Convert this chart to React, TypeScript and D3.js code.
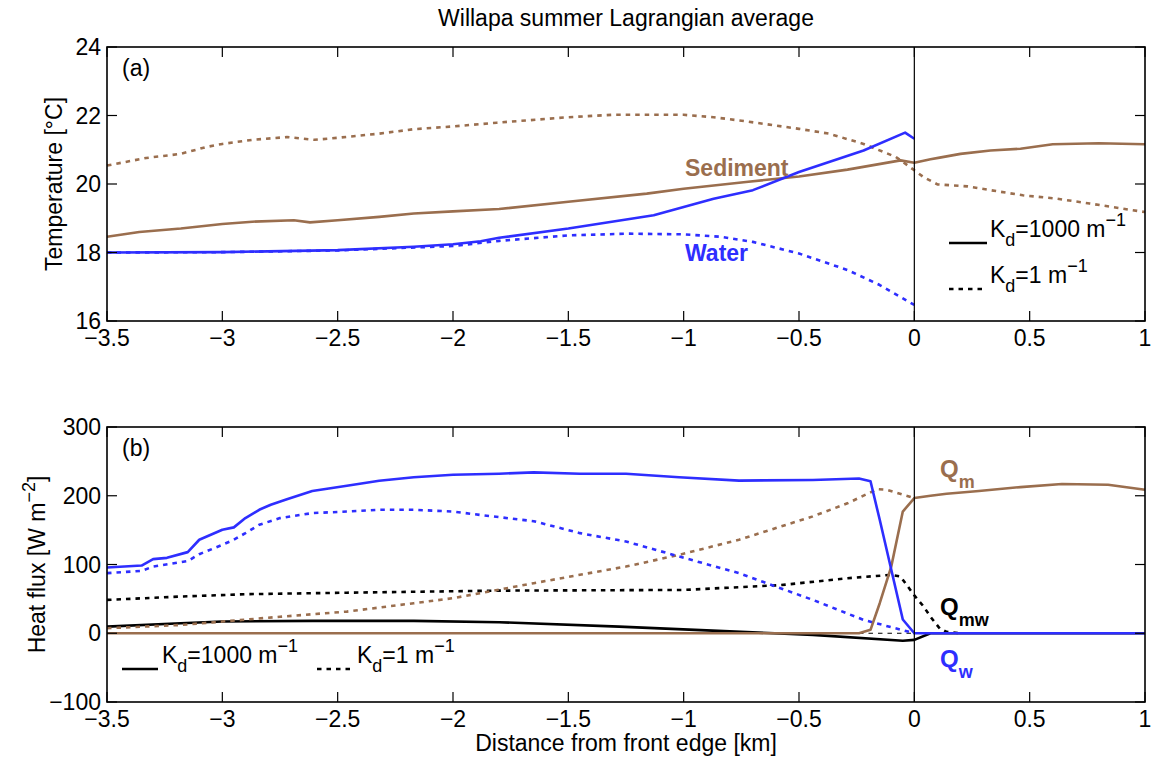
import React from "react";
import * as d3 from "d3";

// ---------- data ----------
const xTicks = [-3.5, -3, -2.5, -2, -1.5, -1, -0.5, 0, 0.5, 1];
const tTicks = [16, 18, 20, 22, 24];
const qTicks = [-100, 0, 100, 200, 300];

// panel (a): temperature [°C]
const sedimentSolid: [number, number][] = [[-3.5,18.46],[-3.36,18.6],[-3.18,18.7],[-3,18.83],[-2.87,18.9],[-2.69,18.94],[-2.62,18.88],[-2.5,18.94],[-2.32,19.04],[-2.17,19.14],[-2,19.2],[-1.8,19.27],[-1.5,19.48],[-1.16,19.72],[-1,19.86],[-0.73,20.06],[-0.5,20.22],[-0.29,20.42],[-0.06,20.69],[0,20.62],[0.07,20.72],[0.11,20.77],[0.2,20.88],[0.33,20.98],[0.46,21.03],[0.6,21.16],[0.8,21.19],[1,21.16]];
const sedimentDotted: [number, number][] = [[-3.5,20.54],[-3.33,20.76],[-3.18,20.88],[-3.07,21.08],[-3,21.17],[-2.87,21.29],[-2.72,21.37],[-2.6,21.29],[-2.5,21.35],[-2.32,21.47],[-2.17,21.6],[-2,21.68],[-1.81,21.79],[-1.5,21.95],[-1.31,22.02],[-1,22.02],[-0.87,21.95],[-0.73,21.83],[-0.5,21.61],[-0.37,21.47],[-0.22,21.17],[-0.08,20.79],[0,20.4],[0.04,20.2],[0.1,19.99],[0.23,19.93],[0.33,19.82],[0.47,19.67],[0.62,19.57],[0.76,19.43],[1,19.18]];
const waterSolid: [number, number][] = [[-3.5,18.0],[-3,18.01],[-2.5,18.07],[-2.17,18.17],[-2,18.24],[-1.88,18.33],[-1.8,18.43],[-1.5,18.7],[-1.13,19.09],[-1,19.33],[-0.87,19.57],[-0.7,19.82],[-0.5,20.35],[-0.22,20.98],[-0.04,21.5],[0,21.32]];
const waterDotted: [number, number][] = [[-3.5,18.0],[-3,18.01],[-2.5,18.06],[-2,18.19],[-1.8,18.34],[-1.5,18.5],[-1.24,18.55],[-1,18.53],[-0.84,18.46],[-0.7,18.31],[-0.5,17.97],[-0.29,17.49],[-0.15,17.05],[0,16.47]];

// panel (b): heat flux [W m^-2]
const qwSolid: [number, number][] = [[-3.5,95.6],[-3.35,98.5],[-3.3,107.8],[-3.24,109.7],[-3.15,118],[-3.1,136],[-3,150.5],[-2.95,154],[-2.9,167.5],[-2.84,179.6],[-2.79,187],[-2.72,195],[-2.61,207],[-2.46,214.6],[-2.32,221.8],[-2.17,227],[-2,230.6],[-1.8,232],[-1.65,234],[-1.45,232],[-1.25,232],[-1.02,227],[-0.76,222],[-0.44,223],[-0.24,225],[-0.19,221],[-0.15,165],[-0.05,20],[0,0],[1,0]];
const qwDotted: [number, number][] = [[-3.5,87.4],[-3.35,90.8],[-3.3,97],[-3.15,105],[-3.1,115],[-3,128.6],[-2.95,136],[-2.9,145.6],[-2.84,157.8],[-2.75,167.5],[-2.61,174.8],[-2.46,177],[-2.32,179.6],[-2.17,179.6],[-2,177],[-1.88,172],[-1.65,163],[-1.45,145.6],[-1.25,133.5],[-1.02,111.7],[-0.76,87.4],[-0.44,48.5],[-0.22,19.4],[0,0]];
const qmSolid: [number, number][] = [[-3.5,0],[-0.24,0],[-0.19,5],[-0.15,43.7],[-0.1,97],[-0.05,177],[0,196.6],[0.07,200],[0.14,203],[0.28,207],[0.46,212.6],[0.64,217],[0.84,216],[1,208.7]];
const qmDotted: [number, number][] = [[-3.5,7.3],[-3.18,12],[-3,17],[-2.75,24],[-2.46,31.5],[-2.17,43.7],[-2,51],[-1.84,61],[-1.65,72.8],[-1.45,85],[-1.25,97],[-1.02,114],[-0.76,136],[-0.44,170],[-0.29,189],[-0.16,209.7],[-0.12,208.7],[0,196.6]];
const qmwSolid: [number, number][] = [[-3.5,9.7],[-3.18,14.6],[-3,17],[-2.61,18],[-2.17,18],[-1.8,16],[-1.28,9.7],[-0.85,3.4],[-0.44,-2.4],[-0.05,-11],[0,-9.7],[0.07,0],[1,0]];
const qmwDotted: [number, number][] = [[-3.5,48.5],[-3.18,53.4],[-2.9,56.8],[-2.46,59],[-1.8,62],[-1,63],[-0.58,70],[-0.29,80],[-0.1,85],[-0.06,82.5],[0,55],[0.04,39],[0.07,24],[0.11,7],[0.14,2],[0.2,0]];
const qmwThin: [number, number][] = [[-0.24,0],[0,0]];

// ---------- style ----------
const BROWN = "#9a6e4e";
const BLUE = "#2e2eff";
const FONT = "'Liberation Sans', Arial, Helvetica, sans-serif";
const DOT = "4.5,5";

const W = 1152, H = 759;
const L = 107, R = 1145;
const A = { top: 47, bottom: 321 };
const B = { top: 427, bottom: 702 };

const x = d3.scaleLinear().domain([-3.5, 1]).range([L, R]);
const yT = d3.scaleLinear().domain([16, 24]).range([A.bottom, A.top]);
const yQ = d3.scaleLinear().domain([-100, 300]).range([B.bottom, B.top]);

const fmt = (v: number) => (v < 0 ? "\u2212" + String(Math.abs(v)) : String(v));

function Series({ data, y, color, dotted, width = 2.6 }: any) {
  const line = d3.line<[number, number]>().x((d) => x(d[0])).y((d) => y(d[1]));
  return (
    <path d={line(data) || ""} fill="none" stroke={color} strokeWidth={width}
      strokeDasharray={dotted ? DOT : undefined} strokeLinejoin="round" />
  );
}

function Frame({ y, ticks, top, bottom }: any) {
  const tl = 10;
  return (
    <g>
      {xTicks.map((t) => (
        <g key={"x" + t}>
          <line x1={x(t)} x2={x(t)} y1={bottom} y2={bottom - tl} stroke="#000" strokeWidth={1.2} />
          <line x1={x(t)} x2={x(t)} y1={top} y2={top + tl} stroke="#000" strokeWidth={1.2} />
          <text x={x(t)} y={bottom + 25} textAnchor="middle" fontSize={23} fontFamily={FONT}>{fmt(t)}</text>
        </g>
      ))}
      {ticks.map((t: number) => (
        <g key={"y" + t}>
          <line x1={L} x2={L + tl} y1={y(t)} y2={y(t)} stroke="#000" strokeWidth={1.2} />
          <line x1={R} x2={R - tl} y1={y(t)} y2={y(t)} stroke="#000" strokeWidth={1.2} />
          <text x={L - 6} y={y(t) + 8} textAnchor="end" fontSize={23} fontFamily={FONT}>{fmt(t)}</text>
        </g>
      ))}
      <line x1={x(0)} x2={x(0)} y1={top} y2={bottom} stroke="#000" strokeWidth={1.2} />
      <rect x={L} y={top} width={R - L} height={bottom - top} fill="none" stroke="#000" strokeWidth={1.6} />
    </g>
  );
}

function KdLabel({ x0, y0, value }: any) {
  return (
    <text x={x0} y={y0} fontSize={23} fontFamily={FONT}>
      K<tspan dy={9} fontSize={18}>d</tspan>
      <tspan dy={-9}>={value} m</tspan>
      <tspan dy={-11} fontSize={18}>{"\u22121"}</tspan>
    </text>
  );
}

export default function App() {
  return (
    <svg width={W} height={H} style={{ position: "absolute", left: 0, top: 0, background: "#fff" }}>
      <rect width={W} height={H} fill="#fff" />
      <text x={(L + R) / 2} y={26} textAnchor="middle" fontSize={23} fontFamily={FONT}>Willapa summer Lagrangian average</text>

      {/* panel (a) */}
      <Series data={sedimentDotted} y={yT} color={BROWN} dotted />
      <Series data={waterDotted} y={yT} color={BLUE} dotted />
      <Series data={sedimentSolid} y={yT} color={BROWN} />
      <Series data={waterSolid} y={yT} color={BLUE} />
      <Frame y={yT} ticks={tTicks} top={A.top} bottom={A.bottom} />
      <text x={122} y={76} fontSize={23} fontFamily={FONT}>(a)</text>
      <text x={685} y={176} fontSize={23} fontWeight="bold" fill={BROWN} fontFamily={FONT}>Sediment</text>
      <text x={685} y={261} fontSize={23} fontWeight="bold" fill={BLUE} fontFamily={FONT}>Water</text>
      <line x1={949} x2={987} y1={243} y2={243} stroke="#000" strokeWidth={2.6} />
      <KdLabel x0={990} y0={237} value="1000" />
      <line x1={949} x2={987} y1={289} y2={289} stroke="#000" strokeWidth={2.6} strokeDasharray={DOT} />
      <KdLabel x0={990} y0={283} value="1" />
      <text transform={`translate(62,${(A.top + A.bottom) / 2}) rotate(-90)`} textAnchor="middle" fontSize={23} fontFamily={FONT}>Temperature [°C]</text>

      {/* panel (b) */}
      <Series data={qmwDotted} y={yQ} color="#000" dotted />
      <Series data={qmwThin} y={yQ} color="#000" dotted width={1.2} />
      <Series data={qmwSolid} y={yQ} color="#000" />
      <Series data={qmDotted} y={yQ} color={BROWN} dotted />
      <Series data={qwDotted} y={yQ} color={BLUE} dotted />
      <Series data={qmSolid} y={yQ} color={BROWN} />
      <Series data={qwSolid} y={yQ} color={BLUE} />
      <Frame y={yQ} ticks={qTicks} top={B.top} bottom={B.bottom} />
      <text x={122} y={456} fontSize={23} fontFamily={FONT}>(b)</text>
      <text x={940} y={477} fontSize={24} fontWeight="bold" fill={BROWN} fontFamily={FONT}>Q<tspan dy={11} fontSize={18}>m</tspan></text>
      <text x={940} y={615} fontSize={24} fontWeight="bold" fill="#000" fontFamily={FONT}>Q<tspan dy={11} fontSize={18}>mw</tspan></text>
      <text x={940} y={667} fontSize={24} fontWeight="bold" fill={BLUE} fontFamily={FONT}>Q<tspan dy={11} fontSize={18}>w</tspan></text>
      <line x1={122} x2={158} y1={669} y2={669} stroke="#000" strokeWidth={2.6} />
      <KdLabel x0={162} y0={663} value="1000" />
      <line x1={317} x2={353} y1={669} y2={669} stroke="#000" strokeWidth={2.6} strokeDasharray={DOT} />
      <KdLabel x0={357} y0={663} value="1" />
      <text transform={`translate(45,${(B.top + B.bottom) / 2}) rotate(-90)`} textAnchor="middle" fontSize={23} fontFamily={FONT}>
        Heat flux [W m<tspan dy={-10} fontSize={18}>{"\u22122"}</tspan><tspan dy={10}>]</tspan>
      </text>
      <text x={(L + R) / 2} y={751} textAnchor="middle" fontSize={23} fontFamily={FONT}>Distance from front edge [km]</text>
    </svg>
  );
}
